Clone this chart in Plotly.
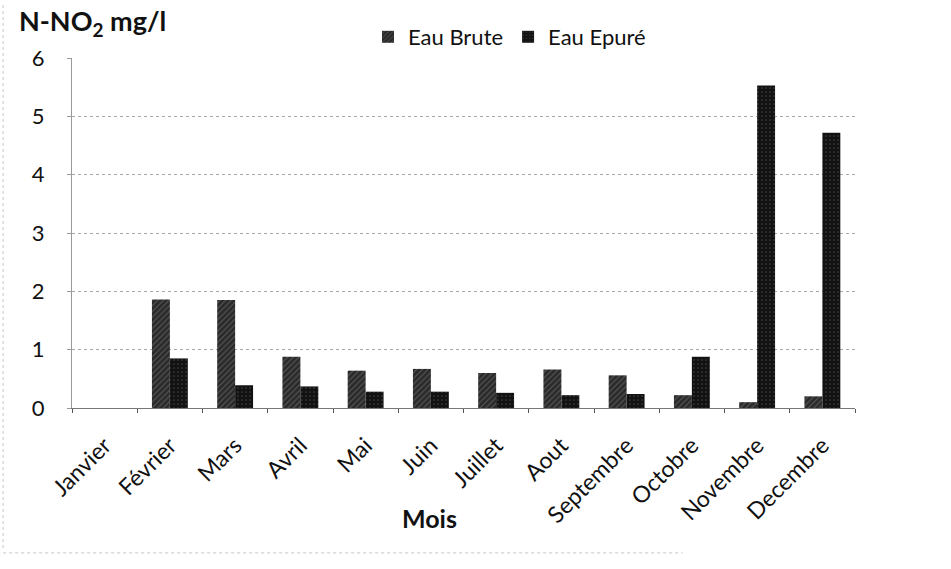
import plotly.graph_objects as go

months = ["Janvier", "Février", "Mars", "Avril", "Mai", "Juin", "Juillet",
          "Aout", "Septembre", "Octobre", "Novembre", "Decembre"]
eau_brute = [0.0, 1.86, 1.85, 0.88, 0.64, 0.67, 0.60, 0.66, 0.56, 0.22, 0.10, 0.20]
eau_epure = [0.0, 0.85, 0.39, 0.37, 0.28, 0.28, 0.26, 0.22, 0.24, 0.88, 5.53, 4.72]
y_ticks = [0, 1, 2, 3, 4, 5, 6]

FONT = "Lato, 'Open Sans', sans-serif"

fig = go.Figure()
fig.add_trace(go.Bar(
    x=months, y=eau_brute, name="Eau Brute",
    marker=dict(color="#2a2a2a", line=dict(width=0),
                pattern=dict(shape="/", fgcolor="#8c8c8c", size=4, solidity=0.25)),
))
fig.add_trace(go.Bar(
    x=months, y=eau_epure, name="Eau Epuré",
    marker=dict(color="#121212", line=dict(width=0),
                pattern=dict(shape=".", fgcolor="#6a6a6a", size=4, solidity=0.15)),
))

fig.update_layout(
    width=951, height=569,
    margin=dict(l=72, r=96, t=58, b=161),
    paper_bgcolor="white", plot_bgcolor="white",
    barmode="group", bargap=0.45, bargroupgap=0,
    font=dict(family=FONT, color="#111", size=22),
    showlegend=True,
    legend=dict(orientation="h", x=0.378, y=1.06, xanchor="left", yanchor="middle",
                font=dict(size=22, family=FONT), bgcolor="rgba(0,0,0,0)",
                itemwidth=30, traceorder="normal"),
    xaxis=dict(
        type="category", tickangle=-45, tickson="boundaries",
        ticks="outside", ticklen=4, tickcolor="#555",
        showline=True, linecolor="#777", linewidth=1,
        showgrid=False, tickfont=dict(size=23, family=FONT),
        ticklabelstandoff=14,
    ),
    yaxis=dict(
        range=[0, 6], tickvals=y_ticks, showgrid=True,
        gridcolor="#a8a8a8", griddash="dot", gridwidth=1,
        showline=True, linecolor="#999", linewidth=1,
        ticks="outside", ticklen=4, tickcolor="#999",
        tickfont=dict(size=22, family=FONT), zeroline=False,
        ticklabelstandoff=18,
    ),
)

# Axis captions
fig.add_annotation(
    text="<b>N-NO<sub>2</sub> mg/l</b>", xref="paper", yref="paper",
    x=-0.07, y=1.1, xanchor="left", yanchor="middle", showarrow=False,
    font=dict(size=27, family=FONT, color="#111"),
)
fig.add_annotation(
    text="<b>Mois</b>", xref="paper", yref="paper",
    x=0.456, y=-0.313, xanchor="center", yanchor="middle", showarrow=False,
    font=dict(size=25, family=FONT, color="#111"),
)

# Faint outer frame edges
fig.add_shape(type="line", xref="paper", yref="paper", x0=-0.088, x1=-0.088,
              y0=-0.40, y1=1.16, line=dict(color="#c8c8c8", width=1, dash="dot"))
fig.add_shape(type="line", xref="paper", yref="paper", x0=-0.088, x1=0.78,
              y0=-0.414, y1=-0.414, line=dict(color="#c8c8c8", width=1, dash="dot"))

fig.write_html("out.html")
